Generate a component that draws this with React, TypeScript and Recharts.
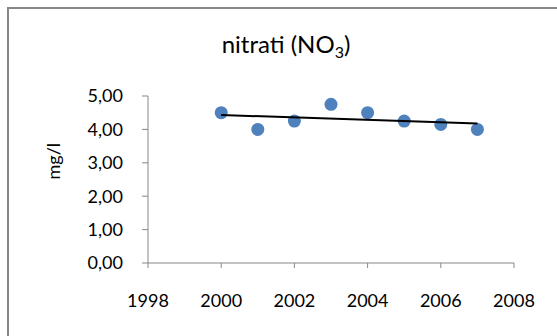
import React from 'react';
import { ScatterChart, Scatter, XAxis, YAxis, Label } from 'recharts';

const years = [2000, 2001, 2002, 2003, 2004, 2005, 2006, 2007];
const nitrati = [4.5, 4.0, 4.25, 4.75, 4.5, 4.25, 4.15, 4.0];
const trendYears = [2000, 2007];
const trendValues = [4.43, 4.18];
const xTicks = [1998, 2000, 2002, 2004, 2006, 2008];
const yTicks = [0, 1, 2, 3, 4, 5];

const points = years.map((x, i) => ({ x, y: nitrati[i] }));
const trend = trendYears.map((x, i) => ({ x, y: trendValues[i] }));

const FONT = 'Lato, "Open Sans", sans-serif';
const fmt = (v: number) => v.toFixed(2).replace('.', ',');

export default function App() {
  return (
    <div style={{ position: 'absolute', left: 0, top: 0, width: 557, height: 336, background: '#fff', overflow: 'hidden' }}>
      <div style={{ position: 'absolute', left: 7, top: 7, width: 560, height: 340, borderLeft: '2px solid #878787', borderTop: '2px solid #878787' }} />
      <svg style={{ position: 'absolute', left: 0, top: 0 }} width={557} height={80}>
        <text x={286} y={53} textAnchor="middle" fontFamily={FONT} fontSize={24} fill="#000">
          nitrati (NO<tspan fontSize={16} dy={5}>3</tspan><tspan dy={-5}>)</tspan>
        </text>
      </svg>
      <div style={{ position: 'absolute', left: 0, top: 0 }}>
        <ScatterChart width={557} height={336} margin={{ top: 96, right: 43, bottom: 42, left: 68 }}>
          <XAxis
            type="number"
            dataKey="x"
            domain={[1998, 2008]}
            ticks={xTicks}
            allowDataOverflow
            stroke="#878787"
            tickLine={{ stroke: '#878787' }}
            tickSize={5}
            tick={{ fill: '#000', fontSize: 18, fontFamily: FONT }}
            tickMargin={26}
            height={31}
          />
          <YAxis
            type="number"
            dataKey="y"
            domain={[0, 5]}
            ticks={yTicks}
            tickFormatter={fmt}
            stroke="#878787"
            tickLine={{ stroke: '#878787' }}
            tickSize={6}
            tickMargin={19}
            tick={{ fill: '#000', fontSize: 18, fontFamily: FONT }}
            width={80}
          >
            <Label value="mg/l" angle={-90} position="insideLeft" offset={-14} style={{ fontSize: 18, fontFamily: FONT, fill: '#000' }} />
          </YAxis>
          <Scatter data={points} fill="#4F81BD" isAnimationActive={false} shape={(p: any) => <circle cx={p.cx} cy={p.cy} r={6.5} fill="#4F81BD" />} />
          <Scatter data={trend} line={{ stroke: '#000', strokeWidth: 2 }} isAnimationActive={false} shape={() => <g />} />
        </ScatterChart>
      </div>
    </div>
  );
}
